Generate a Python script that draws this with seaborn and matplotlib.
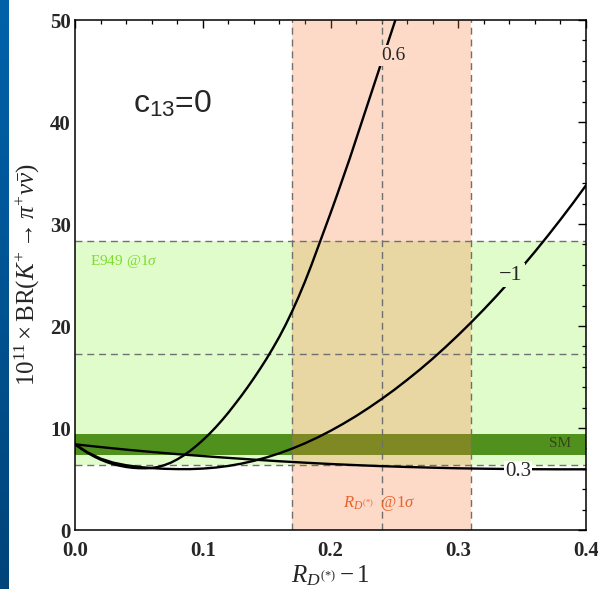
import numpy as np
import pandas as pd
import matplotlib
matplotlib.use("Agg")
import matplotlib.pyplot as plt
import seaborn as sns
from matplotlib.colors import LinearSegmentedColormap

# ---------------- data ----------------
x_c06 = [0, 0.005, 0.01, 0.015, 0.02, 0.025, 0.03, 0.035, 0.04, 0.045, 0.05, 0.055,
         0.06, 0.065, 0.07, 0.075, 0.08, 0.085, 0.09, 0.095, 0.1, 0.105, 0.11, 0.115,
         0.12, 0.125, 0.13, 0.135, 0.14, 0.145, 0.15, 0.155, 0.16, 0.165, 0.17, 0.175,
         0.18, 0.185, 0.19, 0.195, 0.2, 0.205, 0.21, 0.215, 0.22, 0.225, 0.23, 0.235,
         0.24, 0.245, 0.25, 0.255]
y_c06 = [8.4, 7.95, 7.55, 7.2, 6.9, 6.65, 6.45, 6.3, 6.18, 6.1, 6.06, 6.05,
         6.08, 6.18, 6.36, 6.6, 6.92, 7.3, 7.75, 8.25, 8.8, 9.4, 10.05, 10.75,
         11.5, 12.3, 13.12, 13.98, 14.88, 15.82, 16.8, 17.85, 18.95, 20.15, 21.45, 22.85,
         24.35, 25.95, 27.65, 29.35, 31.05, 32.8, 34.6, 36.4, 38.3, 40.2, 42.1, 44.0,
         45.9, 47.8, 49.7, 51.6]

x_cm1 = [0, 0.01, 0.02, 0.03, 0.04, 0.05, 0.06, 0.07, 0.08, 0.09, 0.1, 0.11, 0.12,
         0.13, 0.14, 0.15, 0.16, 0.17, 0.18, 0.19, 0.2, 0.21, 0.22, 0.23, 0.24, 0.25,
         0.26, 0.27, 0.28, 0.29, 0.3, 0.31, 0.32, 0.33, 0.34, 0.35, 0.36, 0.37, 0.38,
         0.39, 0.4]
y_cm1 = [8.4, 7.6, 7.0, 6.6, 6.35, 6.18, 6.07, 6.0, 5.97, 5.97, 6.02, 6.12, 6.28,
         6.5, 6.78, 7.12, 7.52, 7.98, 8.5, 9.08, 9.72, 10.42, 11.17, 11.98, 12.84, 13.75,
         14.72, 15.73, 16.8, 17.93, 19.11, 20.34, 21.62, 22.95, 24.34, 25.79, 27.28, 28.83,
         30.43, 32.08, 33.79]

x_c03 = [0, 0.02, 0.04, 0.06, 0.08, 0.1, 0.12, 0.14, 0.16, 0.18, 0.2, 0.22, 0.24,
         0.26, 0.28, 0.3, 0.32, 0.34, 0.36, 0.38, 0.4]
y_c03 = [8.4, 8.13, 7.88, 7.65, 7.44, 7.25, 7.07, 6.9, 6.74, 6.6, 6.47, 6.36, 6.26,
         6.18, 6.11, 6.05, 6.01, 5.98, 5.96, 5.95, 5.95]

curve_labels = ["0.6", "\u22121", "0.3"]

e949_lo, e949_c, e949_hi = 6.4, 17.3, 28.3
sm_lo, sm_hi = 7.4, 9.4
rd_lo, rd_c, rd_hi = 0.17, 0.24, 0.31

x_ticks = [0.0, 0.1, 0.2, 0.3, 0.4]
y_ticks = [0, 10, 20, 30, 40, 50]

# ---------------- style ----------------
sns.set_style("white")
plt.rcParams["mathtext.fontset"] = "custom"
plt.rcParams["mathtext.rm"] = "Liberation Serif"
plt.rcParams["mathtext.it"] = "Liberation Serif:italic"
plt.rcParams["mathtext.bf"] = "Liberation Serif:bold"
plt.rcParams["mathtext.sf"] = "Liberation Sans"
plt.rcParams["font.family"] = ["Liberation Serif", "DejaVu Serif"]

fig = plt.figure(figsize=(5.98, 5.89), dpi=100)
ax = fig.add_axes([75 / 598, 1 - 530 / 589, 511 / 598, 510 / 589])

# blue slide strip on the left
bax = fig.add_axes([0, 0, 9 / 598, 1])
grad = np.linspace(0, 1, 256).reshape(-1, 1)
cmap = LinearSegmentedColormap.from_list("b", ["#0062AA", "#00447A"])
bax.imshow(grad, aspect="auto", cmap=cmap, extent=[0, 1, 0, 1])
bax.axis("off")

light_green = (225 / 255, 252 / 255, 203 / 255)
dark_green = (80 / 255, 145 / 255, 30 / 255)
pink = (251 / 255, 118 / 255, 52 / 255)

ax.axhspan(e949_lo, e949_hi, color=light_green, lw=0, zorder=0)
ax.axhspan(sm_lo, sm_hi, color=dark_green, lw=0, zorder=1)
ax.axvspan(rd_lo, rd_hi, color=pink, alpha=0.27, lw=0, zorder=2)

dash_kw = dict(color="#707070", lw=1.0, ls=(0, (5, 3.5)), zorder=3)
for yv in (e949_lo, e949_c, e949_hi):
    ax.axhline(yv, **dash_kw)
for xv in (rd_lo, rd_c, rd_hi):
    ax.axvline(xv, **dash_kw)

df = pd.concat([
    pd.DataFrame({"x": x_c06, "y": y_c06, "c": curve_labels[0]}),
    pd.DataFrame({"x": x_cm1, "y": y_cm1, "c": curve_labels[1]}),
    pd.DataFrame({"x": x_c03, "y": y_c03, "c": curve_labels[2]}),
])
for name, sub in df.groupby("c", sort=False):
    sns.lineplot(data=sub, x="x", y="y", color="black", lw=1.7, sort=False,
                 estimator=None, ax=ax, zorder=4)

ax.set_xlim(0, 0.4)
ax.set_ylim(0, 50)
ax.set_xticks(x_ticks)
ax.set_xticklabels([f"{v:.1f}" for v in x_ticks])
ax.set_yticks(y_ticks)
ax.set_xticks(np.arange(0, 0.4001, 0.02), minor=True)
ax.set_yticks(np.arange(0, 50.01, 2), minor=True)
ax.tick_params(which="both", direction="in", top=True, right=True, color="black")
ax.tick_params(which="major", length=6, width=1.0, labelsize=15)
ax.tick_params(axis="x", which="major", pad=8)
ax.tick_params(axis="y", which="major", pad=3)
ax.tick_params(which="minor", length=3, width=0.9)
for lab in ax.get_xticklabels() + ax.get_yticklabels():
    lab.set_fontweight("bold")
for s in ax.spines.values():
    s.set_color("black")
    s.set_linewidth(1.1)
    s.set_zorder(6)

ax.set_xlabel(r"$R_{D^{(*)}}-1$", fontsize=18, labelpad=2)
ax.set_ylabel(r"$10^{11}\times\mathrm{BR}(K^{+}\to\pi^{+}\nu\bar{\nu})$", fontsize=18,
              labelpad=6)

# curve labels
ax.text(0.249, 46.5, curve_labels[0], fontsize=14, ha="center", va="center", zorder=5,
        bbox=dict(boxstyle="square,pad=0.1", fc=(254 / 255, 218 / 255, 200 / 255), ec="none"))
ax.text(0.341, 25.0, curve_labels[1], fontsize=16, ha="center", va="center", zorder=5,
        bbox=dict(boxstyle="square,pad=0.1", fc=light_green, ec="none"))
ax.text(0.347, 5.7, curve_labels[2], fontsize=15, ha="center", va="center", zorder=5,
        bbox=dict(boxstyle="square,pad=0.05", fc="white", ec="none"))

ax.text(0.0115, 26.3, r"E949 @1$\sigma$", fontsize=11, color="#7EDC2E",
        ha="left", va="center", zorder=5)
ax.text(0.380, 8.5, "SM", fontsize=11, color="#34461A", ha="center", va="center", zorder=5)
ax.text(0.21, 2.6, r"$R_{D^{(*)}}$  @1$\sigma$", fontsize=12, color="#E8642A",
        ha="left", va="center", zorder=5)

ax.text(0.076, 41.7, r"c$_{\mathsf{13}}$=0", fontsize=23, family="Liberation Sans",
        ha="center", va="center", zorder=5)

fig.savefig("out.png", dpi=100)
